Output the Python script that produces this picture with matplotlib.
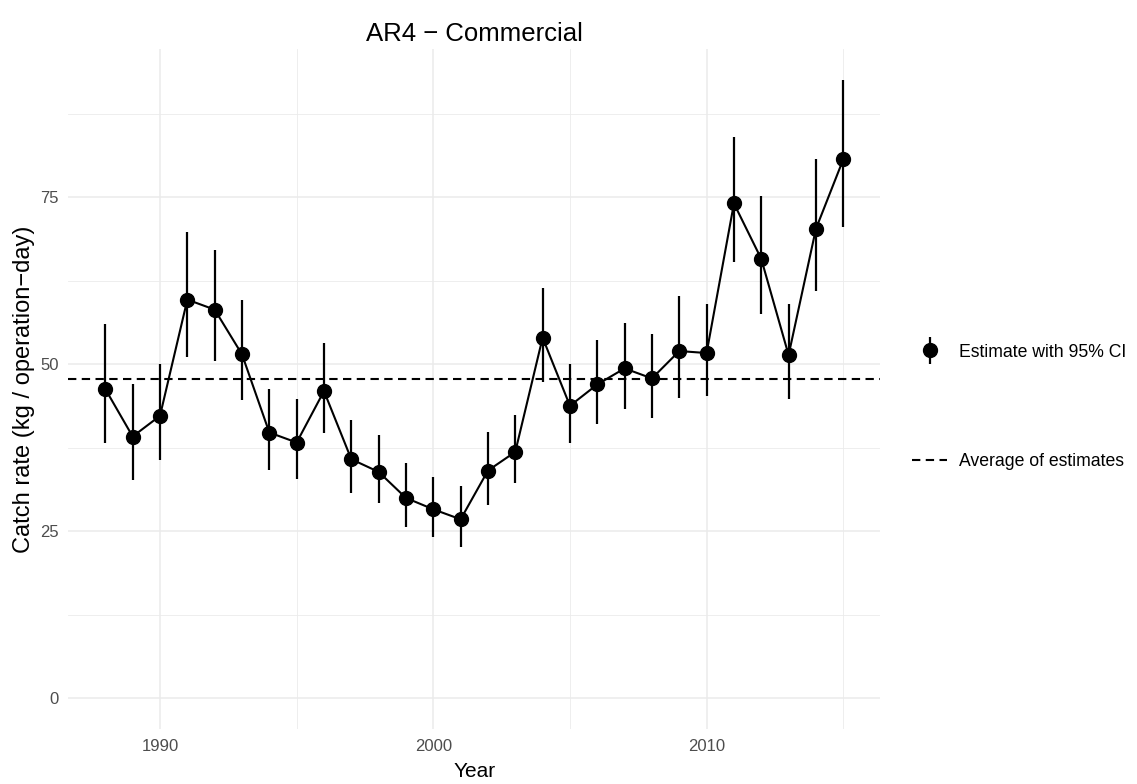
import numpy as np
import matplotlib
matplotlib.use("Agg")
import matplotlib.pyplot as plt
from matplotlib.container import ErrorbarContainer
from matplotlib.legend_handler import HandlerErrorbar
from matplotlib.lines import Line2D

plt.rcParams['font.family'] = ['Liberation Sans', 'DejaVu Sans']

# ----------------------- Data -----------------------#
years = [1988, 1989, 1990, 1991, 1992, 1993, 1994, 1995, 1996, 1997,
         1998, 1999, 2000, 2001, 2002, 2003, 2004, 2005, 2006, 2007,
         2008, 2009, 2010, 2011, 2012, 2013, 2014, 2015]
estimate = [46.3, 39.2, 42.3, 59.7, 58.2, 51.5, 39.8, 38.3, 46.0, 35.8,
            33.9, 30.0, 28.3, 26.8, 34.1, 36.9, 54.0, 43.8, 47.0, 49.4,
            47.9, 52.0, 51.7, 74.1, 65.8, 51.4, 70.3, 80.7]
lower = [38.2, 32.7, 35.7, 51.1, 50.5, 44.6, 34.2, 32.8, 39.8, 30.8,
         29.2, 25.7, 24.1, 22.7, 29.0, 32.2, 47.4, 38.3, 41.1, 43.3,
         42.0, 45.0, 45.3, 65.3, 57.6, 44.8, 61.0, 70.5]
upper = [56.0, 47.1, 50.0, 69.8, 67.1, 59.6, 46.3, 44.8, 53.2, 41.6,
         39.5, 35.2, 33.1, 31.8, 39.9, 42.4, 61.4, 50.0, 53.6, 56.2,
         54.6, 60.2, 59.1, 84.0, 75.2, 59.0, 80.8, 92.6]
avg_estimate = 47.75

x_ticks = [1990, 2000, 2010]
x_minor = [1995, 2005, 2015]
y_ticks = [0, 25, 50, 75]
y_minor = [12.5, 37.5, 62.5, 87.5]


def main():
    est = np.array(estimate)
    lo = np.array(lower)
    hi = np.array(upper)

    fig = plt.figure(figsize=(11.37, 7.84), dpi=100)
    ax = fig.add_axes([0.0602, 0.0699, 0.7139, 0.8676])

    # ---------------- grid like theme_minimal ----------------#
    grid_col = '#EBEBEB'
    for v in x_ticks:
        ax.axvline(v, color=grid_col, lw=1.1, zorder=0)
    for v in x_minor:
        ax.axvline(v, color=grid_col, lw=0.6, zorder=0)
    for v in y_ticks:
        ax.axhline(v, color=grid_col, lw=1.1, zorder=0)
    for v in y_minor:
        ax.axhline(v, color=grid_col, lw=0.6, zorder=0)

    # ---------------- series ----------------#
    ax.plot(years, est, color='black', lw=1.5, zorder=2)
    eb = ax.errorbar(years, est, yerr=[est - lo, hi - est], fmt='o',
                     color='black', ms=10, elinewidth=1.6, capsize=0,
                     zorder=3, label='Estimate with 95% CI')
    avg_line = ax.axhline(avg_estimate, color='black', lw=1.5, zorder=1,
                          label='Average of estimates')
    avg_line.set_dashes((4, 2.6))

    # ---------------- scales (5% expansion) ----------------#
    x0, x1 = min(years), max(years)
    xpad = 0.05 * (x1 - x0)
    ax.set_xlim(x0 - xpad, x1 + xpad)
    y0, y1 = min(0, lo.min()), hi.max()
    ypad = 0.05 * (y1 - y0)
    ax.set_ylim(y0 - ypad, y1 + ypad)

    ax.set_xticks(x_ticks)
    ax.set_yticks(y_ticks)
    ax.tick_params(length=0, labelsize=12, labelcolor='#4D4D4D', pad=7)
    for s in ax.spines.values():
        s.set_visible(False)

    ax.set_title('AR4 \u2212 Commercial', fontsize=18.5, pad=6)
    ax.set_xlabel('Year', fontsize=15, labelpad=6)
    ax.set_ylabel('Catch rate (kg / operation\u2212day)', fontsize=17, labelpad=4)

    # ---------------- legends ----------------#
    fig.legend(handles=[eb], loc='center left',
               bbox_to_anchor=(0.802, 0.551), frameon=False,
               fontsize=12.7, borderpad=0, borderaxespad=0,
               handlelength=2.0, handletextpad=0.7,
               handler_map={ErrorbarContainer: HandlerErrorbar(yerr_size=0.75)})
    dash_handle = Line2D([], [], color='black', lw=1.5)
    dash_handle.set_dashes((4, 2.6))
    fig.legend(handles=[dash_handle], labels=['Average of estimates'],
               loc='center left', bbox_to_anchor=(0.802, 0.411),
               frameon=False, fontsize=12.7, borderpad=0, borderaxespad=0,
               handlelength=2.0, handletextpad=0.7)

    fig.savefig('out.png', dpi=100)


if __name__ == "__main__":
    main()
